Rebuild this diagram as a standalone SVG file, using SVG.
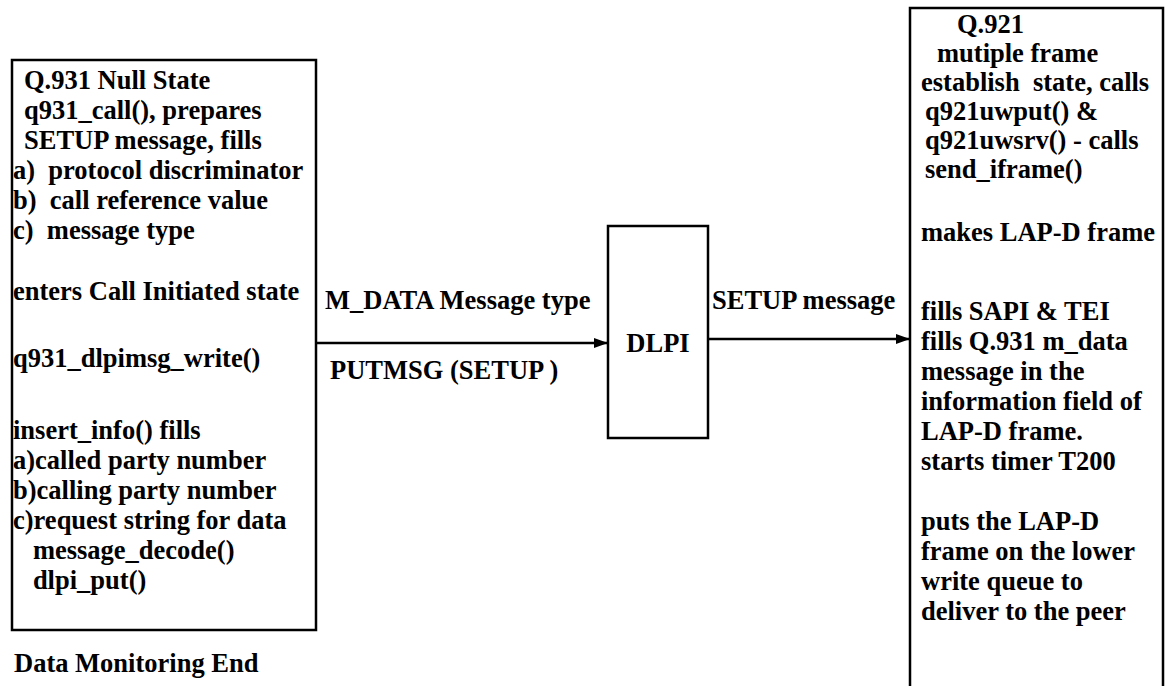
<svg xmlns="http://www.w3.org/2000/svg" width="1167" height="686" viewBox="0 0 1167 686" xml:space="preserve">
<style>
text { font-family: "Liberation Serif", "Times New Roman", serif; font-size: 26.5px; font-weight: bold; fill: #000; white-space: pre; }
.box { fill: #fff; stroke: #000; stroke-width: 2.5; }
.conn { stroke: #000; stroke-width: 2.5; fill: none; }
</style>
<defs>
<marker id="arr" markerWidth="14" markerHeight="10" refX="14" refY="5" orient="auto" markerUnits="userSpaceOnUse">
<path d="M0,0 L14,5 L0,10 Z" fill="#000"/>
</marker>
</defs>
<rect width="1167" height="686" fill="#fff"/>
<g id="q931">
<rect class="box" x="12" y="60" width="304" height="570"/>
<text x="24" y="89">Q.931 Null State</text>
<text x="24" y="119">q931_call(), prepares</text>
<text x="24" y="149">SETUP message, fills</text>
<text x="13" y="179">a)  protocol discriminator</text>
<text x="13" y="209">b)  call reference value</text>
<text x="13" y="239">c)  message type</text>
<text x="13" y="300">enters Call Initiated state</text>
<text x="13" y="367">q931_dlpimsg_write()</text>
<text x="13" y="439">insert_info() fills</text>
<text x="13" y="469">a)called party number</text>
<text x="13" y="499">b)calling party number</text>
<text x="13" y="529">c)request string for data</text>
<text x="13" y="559">   message_decode()</text>
<text x="13" y="589">   dlpi_put()</text>
</g>
<g id="dlpi">
<rect class="box" x="608" y="226" width="100" height="212"/>
<text x="658" y="352" text-anchor="middle">DLPI</text>
</g>
<g id="q921">
<path class="conn" d="M910,690 L910,8 L1163,8 L1163,690"/>
<text x="957" y="33">Q.921</text>
<text x="937" y="62">mutiple frame</text>
<text x="921" y="91">establish  state, calls</text>
<text x="925" y="120">q921uwput() &amp;</text>
<text x="925" y="149">q921uwsrv() - calls</text>
<text x="925" y="178">send_iframe()</text>
<text x="921" y="241">makes LAP-D frame</text>
<text x="921" y="320">fills SAPI &amp; TEI</text>
<text x="921" y="350">fills Q.931 m_data</text>
<text x="921" y="380">message in the</text>
<text x="921" y="410">information field of</text>
<text x="921" y="440">LAP-D frame.</text>
<text x="921" y="470">starts timer T200</text>
<text x="921" y="530">puts the LAP-D</text>
<text x="921" y="560">frame on the lower</text>
<text x="921" y="590">write queue to</text>
<text x="921" y="620">deliver to the peer</text>
</g>
<g id="connectors">
<line class="conn" x1="316" y1="343" x2="608" y2="343" marker-end="url(#arr)"/>
<line class="conn" x1="708" y1="339" x2="910" y2="339" marker-end="url(#arr)"/>
<text x="325" y="309">M_DATA Message type</text>
<text x="330" y="379">PUTMSG (SETUP )</text>
<text x="712" y="309">SETUP message</text>
</g>
<text x="14" y="672">Data Monitoring End</text>
</svg>
